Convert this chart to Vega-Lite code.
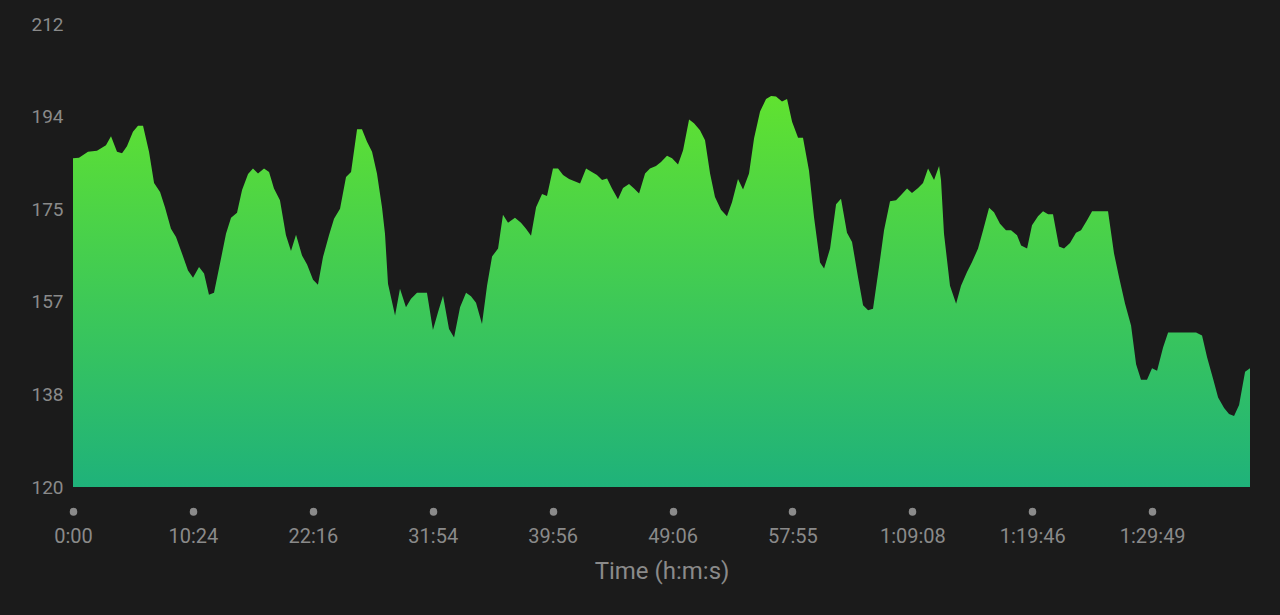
{
  "$schema": "https://vega.github.io/schema/vega-lite/v6.json",
  "autosize": "none",
  "width": 1177,
  "height": 463,
  "padding": {"left": 73, "top": 24, "right": 30, "bottom": 128},
  "background": "#1b1b1b",
  "config": {"view": {"stroke": null}, "font": "Roboto"},
  "data": {"values": [
    {"km":0,"hr":185.3},{"km":0.05,"hr":185.4},{"km":0.125,"hr":186.6},{"km":0.2,"hr":186.8},{"km":0.275,"hr":187.9},{"km":0.317,"hr":189.7},{"km":0.367,"hr":186.6},{"km":0.409,"hr":186.3},{"km":0.45,"hr":187.7},{"km":0.5,"hr":190.6},{"km":0.542,"hr":191.8},{"km":0.584,"hr":191.8},{"km":0.634,"hr":186.6},{"km":0.676,"hr":180.4},{"km":0.726,"hr":178.6},{"km":0.767,"hr":175.6},{"km":0.817,"hr":171.3},{"km":0.859,"hr":169.7},{"km":0.909,"hr":166.4},{"km":0.959,"hr":163.0},{"km":1.001,"hr":161.6},{"km":1.051,"hr":163.7},{"km":1.093,"hr":162.4},{"km":1.134,"hr":158.2},{"km":1.176,"hr":158.6},{"km":1.226,"hr":164.4},{"km":1.276,"hr":170.3},{"km":1.318,"hr":173.5},{"km":1.368,"hr":174.5},{"km":1.41,"hr":179.0},{"km":1.46,"hr":182.2},{"km":1.501,"hr":183.3},{"km":1.543,"hr":182.3},{"km":1.593,"hr":183.3},{"km":1.635,"hr":182.6},{"km":1.676,"hr":179.3},{"km":1.726,"hr":177.0},{"km":1.776,"hr":170.0},{"km":1.818,"hr":166.9},{"km":1.86,"hr":170.1},{"km":1.91,"hr":166.0},{"km":1.952,"hr":164.2},{"km":2.002,"hr":161.2},{"km":2.043,"hr":160.2},{"km":2.085,"hr":165.7},{"km":2.135,"hr":170.0},{"km":2.177,"hr":173.3},{"km":2.227,"hr":175.3},{"km":2.277,"hr":181.6},{"km":2.319,"hr":182.6},{"km":2.369,"hr":191.1},{"km":2.41,"hr":191.1},{"km":2.452,"hr":188.6},{"km":2.494,"hr":186.6},{"km":2.535,"hr":182.3},{"km":2.577,"hr":175.6},{"km":2.602,"hr":170.3},{"km":2.627,"hr":160.4},{"km":2.686,"hr":154.1},{"km":2.727,"hr":159.4},{"km":2.777,"hr":155.7},{"km":2.819,"hr":157.4},{"km":2.869,"hr":158.6},{"km":2.952,"hr":158.6},{"km":3.002,"hr":151.2},{"km":3.044,"hr":154.7},{"km":3.086,"hr":158.0},{"km":3.136,"hr":151.4},{"km":3.178,"hr":149.7},{"km":3.228,"hr":155.7},{"km":3.278,"hr":158.6},{"km":3.319,"hr":157.9},{"km":3.361,"hr":156.6},{"km":3.411,"hr":152.4},{"km":3.453,"hr":160.0},{"km":3.495,"hr":165.8},{"km":3.545,"hr":167.4},{"km":3.586,"hr":174.1},{"km":3.628,"hr":172.5},{"km":3.686,"hr":173.5},{"km":3.736,"hr":172.5},{"km":3.778,"hr":171.3},{"km":3.82,"hr":169.9},{"km":3.862,"hr":175.6},{"km":3.912,"hr":178.2},{"km":3.953,"hr":177.8},{"km":4.003,"hr":183.3},{"km":4.045,"hr":183.3},{"km":4.087,"hr":182.0},{"km":4.137,"hr":181.2},{"km":4.178,"hr":180.8},{"km":4.229,"hr":180.3},{"km":4.279,"hr":183.3},{"km":4.32,"hr":182.7},{"km":4.37,"hr":182.0},{"km":4.412,"hr":181.0},{"km":4.454,"hr":181.3},{"km":4.495,"hr":179.3},{"km":4.545,"hr":177.2},{"km":4.587,"hr":179.4},{"km":4.637,"hr":180.2},{"km":4.679,"hr":179.3},{"km":4.721,"hr":178.3},{"km":4.771,"hr":182.3},{"km":4.812,"hr":183.3},{"km":4.862,"hr":183.8},{"km":4.904,"hr":184.6},{"km":4.954,"hr":185.8},{"km":4.996,"hr":185.3},{"km":5.046,"hr":184.1},{"km":5.088,"hr":186.9},{"km":5.138,"hr":193.0},{"km":5.179,"hr":192.3},{"km":5.229,"hr":190.9},{"km":5.271,"hr":188.9},{"km":5.313,"hr":182.3},{"km":5.354,"hr":177.6},{"km":5.404,"hr":175.1},{"km":5.454,"hr":173.8},{"km":5.496,"hr":176.6},{"km":5.546,"hr":181.2},{"km":5.588,"hr":179.1},{"km":5.638,"hr":182.3},{"km":5.68,"hr":189.3},{"km":5.73,"hr":194.6},{"km":5.78,"hr":197.1},{"km":5.822,"hr":197.7},{"km":5.863,"hr":197.6},{"km":5.913,"hr":196.6},{"km":5.955,"hr":197.1},{"km":5.997,"hr":192.6},{"km":6.047,"hr":189.4},{"km":6.088,"hr":189.4},{"km":6.138,"hr":182.9},{"km":6.18,"hr":173.6},{"km":6.23,"hr":164.6},{"km":6.264,"hr":163.4},{"km":6.314,"hr":167.4},{"km":6.364,"hr":176.2},{"km":6.405,"hr":177.3},{"km":6.455,"hr":170.5},{"km":6.497,"hr":168.7},{"km":6.547,"hr":161.7},{"km":6.589,"hr":156.1},{"km":6.631,"hr":155.1},{"km":6.672,"hr":155.4},{"km":6.722,"hr":163.7},{"km":6.764,"hr":171.0},{"km":6.814,"hr":176.8},{"km":6.864,"hr":177.0},{"km":6.906,"hr":178.0},{"km":6.956,"hr":179.3},{"km":6.997,"hr":178.4},{"km":7.048,"hr":179.4},{"km":7.089,"hr":180.4},{"km":7.131,"hr":183.3},{"km":7.181,"hr":181.0},{"km":7.223,"hr":183.8},{"km":7.239,"hr":181.0},{"km":7.264,"hr":170.3},{"km":7.314,"hr":160.0},{"km":7.365,"hr":156.4},{"km":7.406,"hr":160.0},{"km":7.456,"hr":162.7},{"km":7.498,"hr":164.7},{"km":7.548,"hr":167.4},{"km":7.59,"hr":171.0},{"km":7.64,"hr":175.5},{"km":7.681,"hr":174.6},{"km":7.731,"hr":172.3},{"km":7.781,"hr":171.0},{"km":7.823,"hr":171.0},{"km":7.873,"hr":170.0},{"km":7.907,"hr":168.0},{"km":7.957,"hr":167.4},{"km":7.998,"hr":172.0},{"km":8.048,"hr":173.8},{"km":8.09,"hr":174.8},{"km":8.132,"hr":174.2},{"km":8.173,"hr":174.2},{"km":8.223,"hr":167.8},{"km":8.265,"hr":167.4},{"km":8.315,"hr":168.5},{"km":8.365,"hr":170.5},{"km":8.407,"hr":171.0},{"km":8.457,"hr":173.0},{"km":8.499,"hr":174.8},{"km":8.632,"hr":174.8},{"km":8.682,"hr":166.4},{"km":8.724,"hr":161.7},{"km":8.774,"hr":156.4},{"km":8.824,"hr":152.1},{"km":8.866,"hr":144.4},{"km":8.907,"hr":141.3},{"km":8.957,"hr":141.3},{"km":8.999,"hr":143.6},{"km":9.041,"hr":143.1},{"km":9.091,"hr":147.7},{"km":9.133,"hr":150.7},{"km":9.366,"hr":150.7},{"km":9.416,"hr":150.1},{"km":9.458,"hr":145.8},{"km":9.508,"hr":141.5},{"km":9.55,"hr":137.8},{"km":9.6,"hr":135.7},{"km":9.641,"hr":134.5},{"km":9.683,"hr":134.1},{"km":9.725,"hr":136.3},{"km":9.775,"hr":142.9},{"km":9.816,"hr":143.6}
  ]},
  "mark": {
    "type": "area",
    "interpolate": "linear",
    "fill": {
      "gradient": "linear",
      "x1": 0, "y1": 0, "x2": 0, "y2": 1,
      "stops": [
        {"offset": 0, "color": "#60e230"},
        {"offset": 1, "color": "#1fb27a"}
      ]
    }
  },
  "encoding": {
    "x": {
      "field": "km",
      "type": "quantitative",
      "scale": {"domain": [0, 9.816], "nice": false, "zero": false},
      "axis": {
        "values": [0, 1, 2, 3, 4, 5, 6, 7, 8, 9],
        "labelExpr": "['0:00','10:24','22:16','31:54','39:56','49:06','57:55','1:09:08','1:19:46','1:29:49'][datum.value]",
        "domain": false,
        "grid": false,
        "offset": 24,
        "ticks": true,
        "tickCap": "round",
        "tickWidth": 7.5,
        "tickSize": 0.5,
        "tickColor": "#8a8a8a",
        "labelPadding": 15,
        "labelFlush": false,
        "labelBound": false,
        "labelOverlap": false,
        "labelFont": "Roboto",
        "labelFontSize": 20,
        "labelColor": "#8a8a8a",
        "title": "Time (h:m:s)",
        "titleFont": "Roboto",
        "titleFontSize": 24,
        "titleFontWeight": "normal",
        "titleColor": "#8a8a8a",
        "titlePadding": 13
      }
    },
    "y": {
      "field": "hr",
      "type": "quantitative",
      "scale": {"domain": [120, 212], "nice": false, "zero": false},
      "axis": {
        "values": [120, 138.4, 156.8, 175.2, 193.6, 212],
        "format": "d",
        "domain": false,
        "grid": false,
        "ticks": false,
        "labelPadding": 10,
        "labelFlush": false,
        "labelBound": false,
        "labelOverlap": false,
        "labelFont": "Roboto",
        "labelFontSize": 19,
        "labelColor": "#8a8a8a",
        "title": null
      }
    },
    "y2": {"datum": 120}
  }
}
